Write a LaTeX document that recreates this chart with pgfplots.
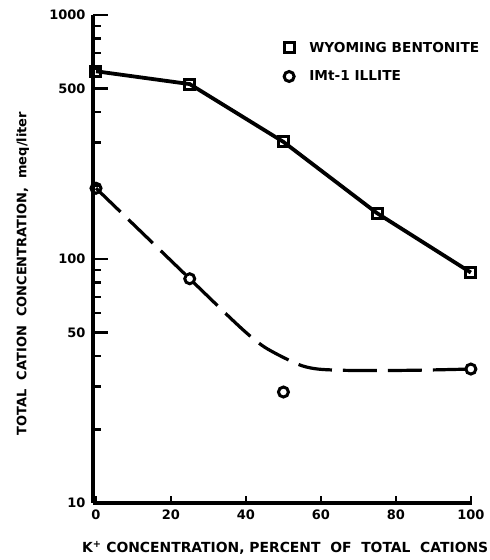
\documentclass[border=0pt]{standalone}
\usepackage{fontspec}
\setmainfont{DejaVu Sans}
\usepackage{pgfplots}
\pgfplotsset{compat=1.18}
\pgfplotsset{
  common/.style={
    scale only axis, width=379pt, height=488pt,
    xmin=-0.8, xmax=100.3, ymin=10, ymax=1000,
    axis x line*=bottom, axis y line*=left,
    axis line style={line width=3.5pt, -},
    tick align=inside,
    every tick/.style={line width=2.4pt, black},
    /pgf/number format/assume math mode=true,
    tick label style={font=\bfseries\fontsize{13}{15}\selectfont},
  }
}
\begin{document}
\begin{tikzpicture}
% axis carrying the x ticks only
\begin{axis}[ymode=log, common,
  axis y line=none,
  xtick={0,20,40,60,80,100},
  ytick=\empty,
  major tick length=7pt,
  xticklabel style={yshift=-3pt},
]
\end{axis}
\begin{axis}[ymode=log, common,
  xtick=\empty,
  ytick={10,50,100,500,1000},
  yticklabels={10,50,100,500,1000},
  minor ytick={20,30,40,60,70,80,90,200,300,400,600,700,800,900},
  major tick length=15pt, minor tick length=8.5pt,
  yticklabel style={xshift=-4pt},
  xlabel={K\textsuperscript{+} CONCENTRATION,\ PERCENT\ \ OF\ \ TOTAL\ \ CATIONS},
  ylabel={TOTAL\ \ CATION\ \ CONCENTRATION,\ \ meq/liter},
  label style={font=\bfseries\fontsize{13}{15}\selectfont},
  xlabel style={at={(axis description cs:0.507,-0.092)}, anchor=center, font=\bfseries\fontsize{13.9}{15}\selectfont},
  ylabel style={at={(axis description cs:-0.185,0.47)}, anchor=center},
  legend style={draw=none, fill=none, at={(axis description cs:0.498,0.949)}, anchor=north west,
    font=\bfseries\fontsize{13.7}{15}\selectfont, row sep=13pt, inner sep=0pt},
  legend cell align=left,
  legend image code/.code={\path (0pt,0pt) (25pt,0pt); \draw[#1] plot coordinates {(7pt,0pt)};},
]
\coordinate (bl) at (rel axis cs:0,0);
% Wyoming bentonite line
\addplot[line width=3.8pt, black, forget plot] coordinates {
  (0,588) (25,521) (50,302) (75,154) (100,88)};
% Illite fitted curve
\addplot[line width=3.2pt, black, smooth, tension=0.5, dash pattern=on 34pt off 11pt, forget plot] coordinates {
  (0,195) (25,83) (36,57) (41,48.5) (45,43.5) (50,39.5) (55,36.5) (60,35.3) (70,34.9) (85,35) (100,35.4)};
\addplot[only marks, mark=square, mark size=5pt, mark options={fill=white, line width=3pt, black}] coordinates {
  (0,588) (25,521) (50,302) (75,154) (100,88)};
\addlegendentry{WYOMING BENTONITE}
\addplot[only marks, mark=o, mark size=5pt, mark options={fill=white, line width=3pt, black}] coordinates {
  (0,195) (25,83) (50,28.5) (100,35.4)};
\addlegendentry{IMt-1 ILLITE}
\end{axis}
\pgfresetboundingbox
\path (bl) ++(-93pt,-57pt) rectangle ++(490pt,560pt);
\end{tikzpicture}
\end{document}
